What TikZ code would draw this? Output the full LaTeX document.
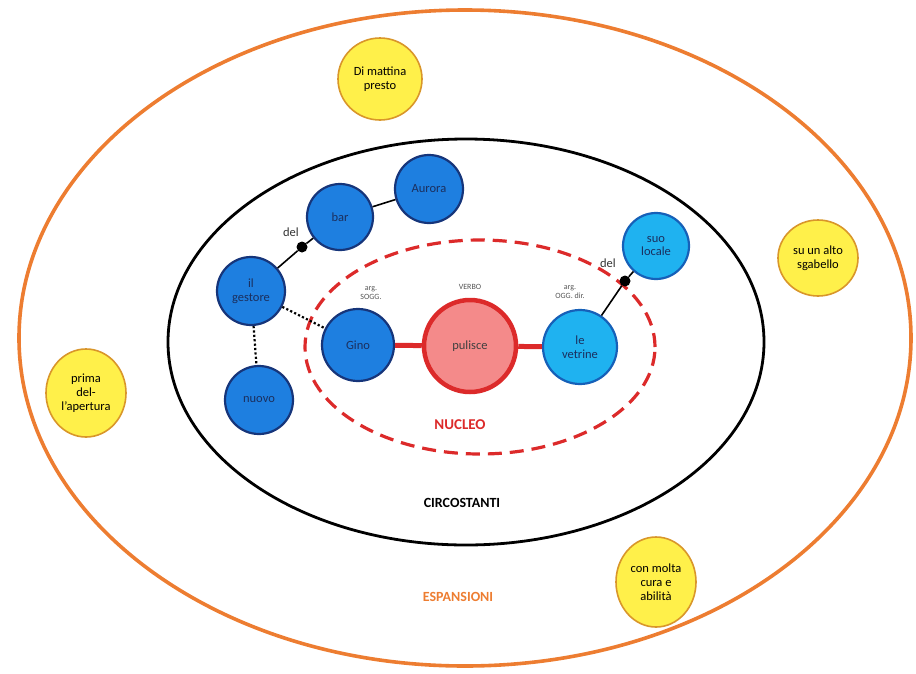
\documentclass[tikz,border=0pt]{standalone}
\usepackage{fontspec}
\setmainfont{Carlito}
\usetikzlibrary{shapes.geometric}
\definecolor{orangeE}{HTML}{ED7D31}
\definecolor{redN}{HTML}{DC2A2A}
\definecolor{pinkF}{HTML}{F48A8A}
\definecolor{blueF}{HTML}{1E7FE0}
\definecolor{blueD}{HTML}{16357A}
\definecolor{cyanF}{HTML}{1FB2F0}
\definecolor{cyanD}{HTML}{1660B8}
\definecolor{yellowF}{HTML}{FFF04A}
\definecolor{yellowD}{HTML}{D9962A}
\definecolor{txtB}{HTML}{1B2F5E}
\definecolor{greyT}{HTML}{555555}
\begin{document}
\begin{tikzpicture}[x=1pt,y=-1pt,
  nodetext/.style={font=\fontsize{12.5}{13.5}\selectfont, align=center},
  bluecirc/.style={circle, draw=blueD, fill=blueF, line width=2.2pt, minimum size=68pt, inner sep=0pt, nodetext, text=txtB},
  cyancirc/.style={circle, draw=cyanD, fill=cyanF, line width=2.2pt, minimum size=70pt, inner sep=0pt, nodetext, text=txtB},
  verbcirc/.style={circle, draw=redN, fill=pinkF, line width=4.5pt, minimum size=92pt, inner sep=0pt, nodetext, text=black!75},
  yellowell/.style={ellipse, draw=yellowD, fill=yellowF, line width=1.6pt, minimum width=82pt, minimum height=82pt, inner sep=0pt, font=\fontsize{12.5}{14}\selectfont, align=center, text=black},
  smalllab/.style={font=\fontsize{8}{9}\selectfont, align=center, text=greyT},
  dellab/.style={font=\fontsize{12.5}{13}\selectfont, text=black!80},
  dotnode/.style={circle, fill=black, inner sep=0pt, minimum size=11pt},
  link/.style={line width=1.6pt, black},
  dotlink/.style={line width=2.2pt, black, dash pattern=on 2.2pt off 2.2pt},
  redlink/.style={line width=5pt, redN}
]
\useasboundingbox (0,0) rectangle (916,673);
% outer ellipses
\draw[orangeE, line width=3.6pt] (465,338) ellipse [x radius=446pt, y radius=328pt];
\draw[black, line width=2.8pt] (466,342) ellipse [x radius=298pt, y radius=203pt];
\draw[redN, line width=3.2pt, dash pattern=on 14pt off 8pt] (480,347) ellipse [x radius=175pt, y radius=107pt];

% labels
\node[font=\bfseries\fontsize{15}{17}\selectfont, text=redN] (nucleo) at (460,425) {NUCLEO};
\node[font=\bfseries\fontsize{14}{16}\selectfont, text=black] (circ) at (462,503) {CIRCOSTANTI};
\node[font=\bfseries\fontsize{14}{16}\selectfont, text=orangeE] (espa) at (458,597) {ESPANSIONI};

% small labels
\node[smalllab] (lsogg) at (371,293) {arg.\\SOGG.};
\node[smalllab] (lverbo) at (470,287) {VERBO};
\node[smalllab] (logg) at (570,292) {arg.\\OGG. dir.};

% nodes
\node[verbcirc] (pulisce) at (470,346) {pulisce};
\node[bluecirc, minimum size=72pt] (gino) at (358,345) {Gino};
\node[cyancirc, minimum size=74pt] (vetrine) at (580,347) {le\\vetrine};
\node[cyancirc, minimum size=66pt] (suo) at (656,246) {suo\\locale};
\node[bluecirc] (gestore) at (251,291) {il\\gestore};
\node[bluecirc, minimum size=66pt] (bar) at (340,217) {bar};
\node[bluecirc] (aurora) at (429,189) {Aurora};
\node[bluecirc] (nuovo) at (259,400) {nuovo};

\node[dotnode] (dot1) at (302,247) {};
\node[dotnode] (dot2) at (625,281) {};
\node[dellab] (del1) at (291,232) {del};
\node[dellab] (del2) at (608,263) {del};

% connectors
\draw[redlink] (gino) -- (pulisce);
\draw[redlink] (pulisce) -- (vetrine);
\draw[link] (gestore) -- (dot1) -- (bar);
\draw[link] (bar) -- (aurora);
\draw[link] (vetrine) -- (dot2) -- (suo);
\draw[dotlink] (gestore) -- (gino);
\draw[dotlink] (gestore) -- (nuovo);

% yellow
\node[yellowell, minimum width=84pt, minimum height=82pt] (mattina) at (380,79) {Di mattina\\presto};
\node[yellowell, minimum width=80pt, minimum height=76pt] (sgabello) at (818,258) {su un alto\\sgabello};
\node[yellowell, minimum width=80pt, minimum height=88pt] (apertura) at (86,393) {prima\\del-\\l'apertura};
\node[yellowell, minimum width=80pt, minimum height=90pt] (cura) at (656,582) {con molta\\cura e\\abilità};
\end{tikzpicture}
\end{document}
